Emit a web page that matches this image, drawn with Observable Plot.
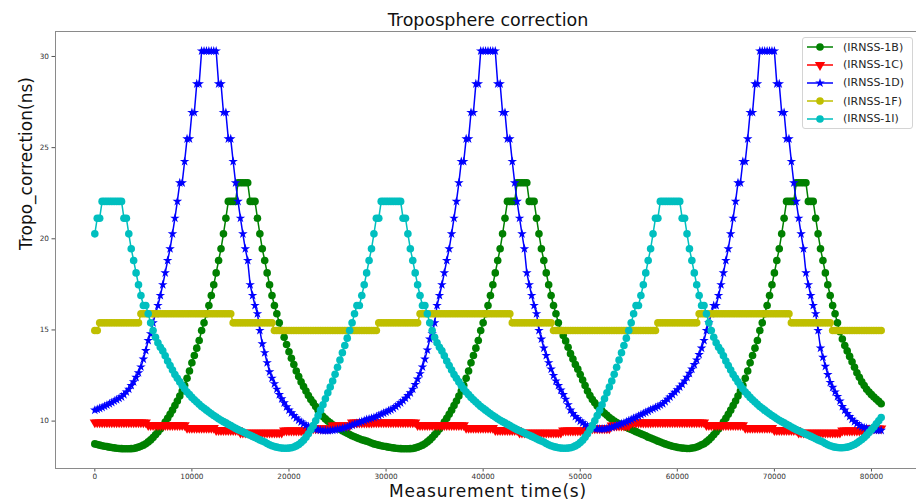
<!DOCTYPE html>
<html>
<head>
<meta charset="utf-8">
<script src="https://cdn.jsdelivr.net/npm/d3@7"></script>
<script src="https://cdn.jsdelivr.net/npm/@observablehq/plot@0.6"></script>
<style>
html, body { margin: 0; padding: 0; background: #fff; }
#wrap { position: relative; width: 916px; height: 501px; overflow: hidden; font-family: "DejaVu Sans", sans-serif; }
#legend { position: absolute; left: 802px; top: 37px; width: 111px; height: 92px; border: 1px solid #d4d4d4; border-radius: 3px; background: rgba(255,255,255,0.85); box-sizing: border-box; }
.row { position: absolute; left: 3px; height: 16px; display: flex; align-items: center; }
.row span { margin-left: 9px; font-size: 11px; color: #262626; white-space: nowrap; }
</style>
</head>
<body>
<div id="wrap"></div>
<script>
// ---- data, one row = 5000 s ----
const TIME = [
0,250,500,750,1000,1250,1500,1750,2000,2250,2500,2750,3000,3250,3500,3750,4000,4250,4500,4750,
5000,5250,5500,5750,6000,6250,6500,6750,7000,7250,7500,7750,8000,8250,8500,8750,9000,9250,9500,9750,
10000,10250,10500,10750,11000,11250,11500,11750,12000,12250,12500,12750,13000,13250,13500,13750,14000,14250,14500,14750,
15000,15250,15500,15750,16000,16250,16500,16750,17000,17250,17500,17750,18000,18250,18500,18750,19000,19250,19500,19750,
20000,20250,20500,20750,21000,21250,21500,21750,22000,22250,22500,22750,23000,23250,23500,23750,24000,24250,24500,24750,
25000,25250,25500,25750,26000,26250,26500,26750,27000,27250,27500,27750,28000,28250,28500,28750,29000,29250,29500,29750,
30000,30250,30500,30750,31000,31250,31500,31750,32000,32250,32500,32750,33000,33250,33500,33750,34000,34250,34500,34750,
35000,35250,35500,35750,36000,36250,36500,36750,37000,37250,37500,37750,38000,38250,38500,38750,39000,39250,39500,39750,
40000,40250,40500,40750,41000,41250,41500,41750,42000,42250,42500,42750,43000,43250,43500,43750,44000,44250,44500,44750,
45000,45250,45500,45750,46000,46250,46500,46750,47000,47250,47500,47750,48000,48250,48500,48750,49000,49250,49500,49750,
50000,50250,50500,50750,51000,51250,51500,51750,52000,52250,52500,52750,53000,53250,53500,53750,54000,54250,54500,54750,
55000,55250,55500,55750,56000,56250,56500,56750,57000,57250,57500,57750,58000,58250,58500,58750,59000,59250,59500,59750,
60000,60250,60500,60750,61000,61250,61500,61750,62000,62250,62500,62750,63000,63250,63500,63750,64000,64250,64500,64750,
65000,65250,65500,65750,66000,66250,66500,66750,67000,67250,67500,67750,68000,68250,68500,68750,69000,69250,69500,69750,
70000,70250,70500,70750,71000,71250,71500,71750,72000,72250,72500,72750,73000,73250,73500,73750,74000,74250,74500,74750,
75000,75250,75500,75750,76000,76250,76500,76750,77000,77250,77500,77750,78000,78250,78500,78750,79000,79250,79500,79750,
80000,80250,80500,80750,81000
];

const IRNSS_1B = [
8.75,8.72,8.68,8.65,8.62,8.6,8.57,8.55,8.53,8.51,8.5,8.49,8.48,8.48,8.48,8.49,8.5,8.53,8.57,8.62,
8.68,8.76,8.86,8.97,9.1,9.25,9.4,9.57,9.75,9.95,10.15,10.37,10.6,10.85,11.1,11.37,11.65,11.97,12.35,12.75,
13.2,13.6,14.0,14.42,14.97,15.39,15.89,16.34,16.89,17.48,18.13,18.81,19.45,20.27,21.13,22.05,22.05,22.05,22.05,23.07,
23.07,23.07,23.07,23.07,22.05,22.05,22.05,21.13,20.27,19.45,18.81,18.13,17.48,16.89,16.34,15.89,15.39,14.97,14.6,14.2,
13.8,13.45,13.1,12.75,12.45,12.15,11.9,11.65,11.4,11.18,11.0,10.8,10.6,10.42,10.25,10.12,10.0,9.9,9.8,9.71,
9.62,9.55,9.47,9.4,9.33,9.26,9.2,9.14,9.08,9.03,8.98,8.94,8.9,8.85,8.8,8.75,8.72,8.68,8.65,8.62,
8.6,8.57,8.55,8.53,8.51,8.5,8.49,8.48,8.48,8.48,8.49,8.5,8.53,8.57,8.62,8.68,8.76,8.86,8.97,9.1,
9.25,9.4,9.57,9.75,9.95,10.15,10.37,10.6,10.85,11.1,11.37,11.65,11.97,12.35,12.75,13.2,13.6,14.0,14.42,14.97,
15.39,15.89,16.34,16.89,17.48,18.13,18.81,19.45,20.27,21.13,22.05,22.05,22.05,22.05,23.07,23.07,23.07,23.07,23.07,22.05,
22.05,22.05,21.13,20.27,19.45,18.81,18.13,17.48,16.89,16.34,15.89,15.39,14.97,14.7,14.4,14.05,13.7,13.4,13.1,12.85,
12.55,12.25,11.95,11.65,11.4,11.18,11.0,10.83,10.68,10.55,10.43,10.32,10.2,10.1,10.0,9.92,9.85,9.78,9.72,9.66,
9.6,9.54,9.48,9.42,9.36,9.3,9.25,9.19,9.12,9.07,9.02,8.96,8.9,8.85,8.8,8.75,8.7,8.66,8.62,8.59,
8.56,8.54,8.52,8.51,8.5,8.5,8.52,8.54,8.58,8.63,8.7,8.76,8.86,8.97,9.1,9.25,9.4,9.57,9.75,9.95,
10.15,10.37,10.6,10.85,11.1,11.37,11.65,11.97,12.35,12.75,13.2,13.6,14.0,14.42,14.97,15.39,15.89,16.34,16.89,17.48,
18.13,18.81,19.45,20.27,21.13,22.05,22.05,22.05,22.05,23.07,23.07,23.07,23.07,23.07,22.05,22.05,22.05,21.13,20.27,19.45,
18.81,18.13,17.48,16.89,16.34,15.89,15.39,14.9,14.5,14.15,13.85,13.55,13.25,12.95,12.65,12.4,12.15,11.95,11.75,11.6,
11.45,11.32,11.2,11.08,10.95
];

const IRNSS_1C = [
9.93,9.93,9.93,9.93,9.93,9.93,9.93,9.93,9.93,9.93,9.93,9.93,9.93,9.93,9.93,9.93,9.93,9.93,9.93,9.93,
9.93,9.93,9.78,9.78,9.78,9.78,9.78,9.78,9.78,9.78,9.78,9.78,9.78,9.78,9.78,9.78,9.78,9.78,9.63,9.63,
9.63,9.63,9.63,9.63,9.63,9.63,9.63,9.63,9.63,9.63,9.5,9.5,9.5,9.5,9.5,9.5,9.5,9.5,9.5,9.5,
9.37,9.37,9.37,9.37,9.37,9.37,9.37,9.37,9.37,9.37,9.37,9.37,9.37,9.37,9.37,9.37,9.37,9.37,9.48,9.48,
9.48,9.48,9.48,9.48,9.48,9.48,9.48,9.48,9.6,9.6,9.6,9.6,9.6,9.6,9.6,9.6,9.6,9.6,9.76,9.76,
9.76,9.76,9.76,9.76,9.76,9.76,9.92,9.92,9.92,9.92,9.92,9.92,9.92,9.92,9.92,9.93,9.93,9.93,9.93,9.93,
9.93,9.93,9.93,9.93,9.93,9.93,9.93,9.93,9.93,9.93,9.93,9.93,9.93,9.78,9.78,9.78,9.78,9.78,9.78,9.78,
9.78,9.78,9.78,9.78,9.78,9.78,9.78,9.78,9.78,9.78,9.78,9.78,9.78,9.63,9.63,9.63,9.63,9.63,9.63,9.63,
9.63,9.63,9.63,9.63,9.63,9.5,9.5,9.5,9.5,9.5,9.5,9.5,9.5,9.5,9.5,9.37,9.37,9.37,9.37,9.37,
9.37,9.37,9.37,9.37,9.37,9.37,9.37,9.37,9.37,9.37,9.37,9.37,9.37,9.48,9.48,9.48,9.48,9.48,9.48,9.48,
9.48,9.48,9.48,9.6,9.6,9.6,9.6,9.6,9.6,9.6,9.6,9.6,9.6,9.76,9.76,9.76,9.76,9.76,9.76,9.76,
9.76,9.92,9.92,9.92,9.92,9.92,9.92,9.92,9.92,9.92,9.93,9.93,9.93,9.93,9.93,9.93,9.93,9.93,9.93,9.93,
9.93,9.93,9.93,9.93,9.93,9.93,9.93,9.93,9.93,9.93,9.93,9.93,9.78,9.78,9.78,9.78,9.78,9.78,9.78,9.78,
9.78,9.78,9.78,9.78,9.78,9.78,9.78,9.78,9.63,9.63,9.63,9.63,9.63,9.63,9.63,9.63,9.63,9.63,9.63,9.63,
9.5,9.5,9.5,9.5,9.5,9.5,9.5,9.5,9.5,9.5,9.37,9.37,9.37,9.37,9.37,9.37,9.37,9.37,9.37,9.37,
9.37,9.37,9.37,9.37,9.37,9.37,9.37,9.37,9.48,9.48,9.48,9.48,9.48,9.48,9.48,9.48,9.48,9.48,9.6,9.6,
9.6,9.6,9.6,9.6,9.6
];

const IRNSS_1D = [
10.6,10.65,10.7,10.75,10.82,10.88,10.95,11.02,11.1,11.17,11.25,11.33,11.45,11.6,11.75,11.95,12.15,12.4,12.65,12.97,
13.4,13.87,14.42,14.79,15.39,15.89,16.34,16.89,17.48,18.13,18.81,19.45,20.27,21.13,22.05,23.07,23.07,24.24,25.48,25.48,
26.93,26.93,28.5,28.5,30.3,30.3,30.3,30.3,30.3,30.3,30.3,28.5,28.5,26.93,26.93,25.48,25.48,24.24,23.07,22.05,
21.13,20.27,19.45,18.81,17.48,16.89,16.34,15.89,14.97,14.24,13.75,13.2,12.7,12.35,12.05,11.75,11.45,11.22,11.0,10.78,
10.6,10.45,10.3,10.17,10.05,9.95,9.85,9.77,9.7,9.65,9.6,9.56,9.52,9.5,9.48,9.48,9.48,9.49,9.5,9.52,
9.55,9.57,9.6,9.64,9.68,9.73,9.78,9.83,9.88,9.93,9.98,10.03,10.08,10.12,10.16,10.2,10.25,10.3,10.38,10.44,
10.5,10.56,10.62,10.7,10.8,10.9,11.0,11.12,11.25,11.4,11.55,11.75,12.0,12.3,12.6,12.97,13.4,13.9,14.5,14.79,
15.39,16.34,16.89,17.48,18.13,18.81,19.45,20.27,21.13,22.05,23.07,24.24,24.24,25.48,25.48,26.93,26.93,28.5,28.5,30.3,
30.3,30.3,30.3,30.3,30.3,30.3,28.5,28.5,26.93,26.93,25.48,25.48,24.24,23.07,22.05,21.13,20.27,19.45,18.13,17.48,
16.89,16.34,15.89,14.97,14.5,14.0,13.6,13.2,12.85,12.5,12.2,11.95,11.7,11.45,11.2,10.9,10.6,10.42,10.25,10.12,
10.0,9.9,9.8,9.72,9.66,9.62,9.59,9.57,9.56,9.56,9.57,9.59,9.62,9.66,9.7,9.75,9.8,9.85,9.9,9.96,
10.02,10.08,10.15,10.21,10.28,10.35,10.42,10.48,10.55,10.62,10.68,10.74,10.8,10.88,10.95,11.07,11.2,11.32,11.45,11.58,
11.72,11.87,12.02,12.2,12.4,12.62,12.85,13.1,13.35,13.65,14.0,14.42,14.97,15.39,15.89,16.34,16.34,16.89,17.48,18.13,
18.81,19.45,20.27,21.13,22.05,23.07,23.07,24.24,24.24,25.48,26.93,26.93,28.5,28.5,30.3,30.3,30.3,30.3,30.3,30.3,
30.3,28.5,28.5,26.93,26.93,25.48,25.48,24.24,23.07,22.05,21.13,20.27,19.45,18.13,17.48,16.89,16.34,15.89,14.97,14.0,
13.5,13.0,12.55,12.12,11.85,11.6,11.35,11.1,10.8,10.6,10.42,10.25,10.1,9.97,9.86,9.76,9.69,9.64,9.6,9.56,
9.53,9.51,9.5,9.49,9.49
];

const IRNSS_1F = [
14.97,14.97,15.39,15.39,15.39,15.39,15.39,15.39,15.39,15.39,15.39,15.39,15.39,15.39,15.39,15.39,15.39,15.39,15.39,15.89,
15.89,15.89,15.89,15.89,15.89,15.89,15.89,15.89,15.89,15.89,15.89,15.89,15.89,15.89,15.89,15.89,15.89,15.89,15.89,15.89,
15.89,15.89,15.89,15.89,15.89,15.89,15.89,15.89,15.89,15.89,15.89,15.89,15.89,15.89,15.89,15.89,15.89,15.39,15.39,15.39,
15.39,15.39,15.39,15.39,15.39,15.39,15.39,15.39,15.39,15.39,15.39,15.39,15.39,15.39,14.97,14.97,14.97,14.97,14.97,14.97,
14.97,14.97,14.97,14.97,14.97,14.97,14.97,14.97,14.97,14.97,14.97,14.97,14.97,14.97,14.97,14.97,14.97,14.97,14.97,14.97,
14.97,14.97,14.97,14.97,14.97,14.97,14.97,14.97,14.97,14.97,14.97,14.97,14.97,14.97,14.97,14.97,14.97,15.39,15.39,15.39,
15.39,15.39,15.39,15.39,15.39,15.39,15.39,15.39,15.39,15.39,15.39,15.39,15.39,15.39,15.89,15.89,15.89,15.89,15.89,15.89,
15.89,15.89,15.89,15.89,15.89,15.89,15.89,15.89,15.89,15.89,15.89,15.89,15.89,15.89,15.89,15.89,15.89,15.89,15.89,15.89,
15.89,15.89,15.89,15.89,15.89,15.89,15.89,15.89,15.89,15.89,15.89,15.89,15.39,15.39,15.39,15.39,15.39,15.39,15.39,15.39,
15.39,15.39,15.39,15.39,15.39,15.39,15.39,15.39,15.39,14.97,14.97,14.97,14.97,14.97,14.97,14.97,14.97,14.97,14.97,14.97,
14.97,14.97,14.97,14.97,14.97,14.97,14.97,14.97,14.97,14.97,14.97,14.97,14.97,14.97,14.97,14.97,14.97,14.97,14.97,14.97,
14.97,14.97,14.97,14.97,14.97,14.97,14.97,14.97,14.97,14.97,14.97,14.97,15.39,15.39,15.39,15.39,15.39,15.39,15.39,15.39,
15.39,15.39,15.39,15.39,15.39,15.39,15.39,15.39,15.39,15.89,15.89,15.89,15.89,15.89,15.89,15.89,15.89,15.89,15.89,15.89,
15.89,15.89,15.89,15.89,15.89,15.89,15.89,15.89,15.89,15.89,15.89,15.89,15.89,15.89,15.89,15.89,15.89,15.89,15.89,15.89,
15.89,15.89,15.89,15.89,15.89,15.89,15.89,15.39,15.39,15.39,15.39,15.39,15.39,15.39,15.39,15.39,15.39,15.39,15.39,15.39,
15.39,15.39,15.39,15.39,14.97,14.97,14.97,14.97,14.97,14.97,14.97,14.97,14.97,14.97,14.97,14.97,14.97,14.97,14.97,14.97,
14.97,14.97,14.97,14.97,14.97
];

const IRNSS_1I = [
20.27,21.13,21.13,22.05,22.05,22.05,22.05,22.05,22.05,22.05,22.05,22.05,21.13,21.13,20.27,19.45,18.81,18.13,17.48,16.89,
16.34,16.34,15.89,15.39,14.97,14.6,14.3,14.05,13.85,13.58,13.3,13.05,12.8,12.55,12.35,12.15,11.95,11.77,11.6,11.45,
11.3,11.17,11.05,10.92,10.8,10.7,10.6,10.5,10.4,10.31,10.22,10.13,10.05,9.97,9.9,9.82,9.75,9.67,9.6,9.53,
9.47,9.41,9.35,9.28,9.22,9.16,9.1,9.03,8.97,8.91,8.85,8.77,8.7,8.65,8.6,8.57,8.54,8.52,8.51,8.51,
8.52,8.54,8.58,8.64,8.72,8.82,8.95,9.12,9.3,9.52,9.75,10.02,10.3,10.6,10.9,11.22,11.55,11.87,12.2,12.57,
12.95,13.35,13.75,14.15,14.55,14.97,15.39,15.89,16.34,16.34,16.89,17.48,18.13,18.81,19.45,20.27,21.13,21.13,22.05,22.05,
22.05,22.05,22.05,22.05,22.05,22.05,22.05,21.13,21.13,20.27,19.45,18.81,18.13,17.48,16.89,16.34,16.34,15.89,15.39,14.97,
14.6,14.3,14.05,13.85,13.58,13.3,13.05,12.8,12.55,12.35,12.15,11.95,11.77,11.6,11.45,11.3,11.17,11.05,10.92,10.8,
10.7,10.6,10.5,10.4,10.31,10.22,10.13,10.05,9.97,9.9,9.82,9.75,9.67,9.6,9.53,9.47,9.41,9.35,9.28,9.22,
9.16,9.1,9.03,8.97,8.91,8.85,8.77,8.7,8.65,8.6,8.57,8.54,8.52,8.51,8.51,8.52,8.54,8.58,8.64,8.72,
8.82,8.95,9.12,9.3,9.52,9.75,10.02,10.3,10.6,10.9,11.22,11.55,11.87,12.2,12.57,12.95,13.35,13.75,14.15,14.55,
14.97,15.39,15.89,16.34,16.34,16.89,17.48,18.13,18.81,19.45,20.27,21.13,21.13,22.05,22.05,22.05,22.05,22.05,22.05,22.05,
22.05,22.05,21.13,21.13,20.27,19.45,18.81,18.13,17.48,16.89,16.34,16.34,15.89,15.39,14.97,14.6,14.3,14.05,13.85,13.58,
13.3,13.05,12.8,12.55,12.35,12.15,11.95,11.77,11.6,11.45,11.3,11.17,11.05,10.92,10.8,10.7,10.6,10.5,10.4,10.31,
10.22,10.13,10.05,9.97,9.9,9.82,9.75,9.67,9.6,9.53,9.47,9.41,9.35,9.28,9.22,9.16,9.1,9.03,8.97,8.91,
8.85,8.77,8.7,8.65,8.6,8.57,8.55,8.54,8.54,8.55,8.57,8.61,8.66,8.72,8.8,8.89,8.99,9.1,9.23,9.38,
9.53,9.68,9.85,10.02,10.2
];

const SERIES_NAMES = ["(IRNSS-1B)", "(IRNSS-1C)", "(IRNSS-1D)", "(IRNSS-1F)", "(IRNSS-1I)"];
const SERIES_COLORS = ["#008000", "#ff0000", "#0000ff", "#bfbf00", "#00bfbf"];
const X_TICKS = [0, 10000, 20000, 30000, 40000, 50000, 60000, 70000, 80000];
const Y_TICKS = [10, 15, 20, 25, 30];
const X_DOMAIN = [-4050, 85050];
const Y_DOMAIN = [7.4, 31.37];
const TITLE = "Troposphere correction";
const X_LABEL = "Measurement time(s)";
const Y_LABEL = "Tropo_correction(ns)";

// ---- symbols ----
const sqrt3 = Math.sqrt(3);
const triangleDown = {
  draw(ctx, size) {
    const y = Math.sqrt(size / (sqrt3 * 3));
    ctx.moveTo(0, 2 * y);
    ctx.lineTo(-sqrt3 * y, -y);
    ctx.lineTo(sqrt3 * y, -y);
    ctx.closePath();
  }
};
const SYMBOLS = ["circle", triangleDown, "star", "circle", "circle"];
const RADII = [3.8, 3.8, 3.0, 3.8, 3.8];
const D3SYM = [d3.symbolCircle, triangleDown, d3.symbolStar, d3.symbolCircle, d3.symbolCircle];

const VALUES = [IRNSS_1B, IRNSS_1C, IRNSS_1D, IRNSS_1F, IRNSS_1I];

const marks = [];
VALUES.forEach((vals, k) => {
  const rows = TIME.map((t, i) => ({t, v: vals[i]}));
  marks.push(Plot.line(rows, {x: "t", y: "v", stroke: SERIES_COLORS[k], strokeWidth: 1.5}));
  marks.push(Plot.dot(rows, {x: "t", y: "v", fill: SERIES_COLORS[k], stroke: "none", r: RADII[k], symbol: SYMBOLS[k]}));
});

const chart = Plot.plot({
  width: 916,
  height: 501,
  marginLeft: 55,
  marginRight: -4,
  marginTop: 31,
  marginBottom: 33,
  style: {fontFamily: "DejaVu Sans, sans-serif", background: "white", color: "#222"},
  x: {domain: X_DOMAIN},
  y: {domain: Y_DOMAIN},
  marks: [
    Plot.axisX({ticks: X_TICKS, tickFormat: d => String(d), tickSize: 3.5, tickPadding: 2, fontSize: 7.3, label: null, stroke: "#555", fill: "#333"}),
    Plot.axisY({ticks: Y_TICKS, tickFormat: d => String(d), tickSize: 3.5, tickPadding: 3, fontSize: 7.3, label: null, stroke: "#555", fill: "#333"}),
    ...marks,
    Plot.ruleX([X_DOMAIN[0]], {stroke: "#8a8a8a", strokeWidth: 1}),
    Plot.ruleY([Y_DOMAIN[0], Y_DOMAIN[1]], {stroke: "#8a8a8a", strokeWidth: 1}),
    Plot.text([TITLE], {frameAnchor: "top", lineAnchor: "middle", dy: -11, fontSize: 17.5, fill: "#111"}),
    Plot.text([X_LABEL], {frameAnchor: "bottom", lineAnchor: "middle", dy: 22.7, fontSize: 17, fill: "#111"}),
    Plot.text([Y_LABEL], {frameAnchor: "left", lineAnchor: "middle", dx: -29, rotate: -90, fontSize: 17, fill: "#111"})
  ]
});

// widen the x label a little so it spans the same width as in the reference
d3.select(chart).selectAll("text")
  .filter(function() { return this.textContent === X_LABEL; })
  .attr("letter-spacing", "0.8px");

const wrap = document.getElementById("wrap");
wrap.appendChild(chart);

// ---- legend ----
const legend = document.createElement("div");
legend.id = "legend";
const ROW_TOPS = [1, 18.5, 36.5, 55, 72.5];
SERIES_NAMES.forEach((name, k) => {
  const row = document.createElement("div");
  row.className = "row";
  row.style.top = ROW_TOPS[k] + "px";
  const ns = "http://www.w3.org/2000/svg";
  const svg = document.createElementNS(ns, "svg");
  svg.setAttribute("width", 28);
  svg.setAttribute("height", 16);
  const line = document.createElementNS(ns, "line");
  line.setAttribute("x1", 1); line.setAttribute("x2", 27);
  line.setAttribute("y1", 8); line.setAttribute("y2", 8);
  line.setAttribute("stroke", SERIES_COLORS[k]);
  line.setAttribute("stroke-width", 1.5);
  svg.appendChild(line);
  const p = document.createElementNS(ns, "path");
  const r = RADII[k];
  p.setAttribute("d", d3.symbol(D3SYM[k], Math.PI * r * r)());
  p.setAttribute("transform", "translate(14,8)");
  p.setAttribute("fill", SERIES_COLORS[k]);
  svg.appendChild(p);
  row.appendChild(svg);
  const span = document.createElement("span");
  span.textContent = name;
  row.appendChild(span);
  legend.appendChild(row);
});
wrap.appendChild(legend);
</script>
</body>
</html>
